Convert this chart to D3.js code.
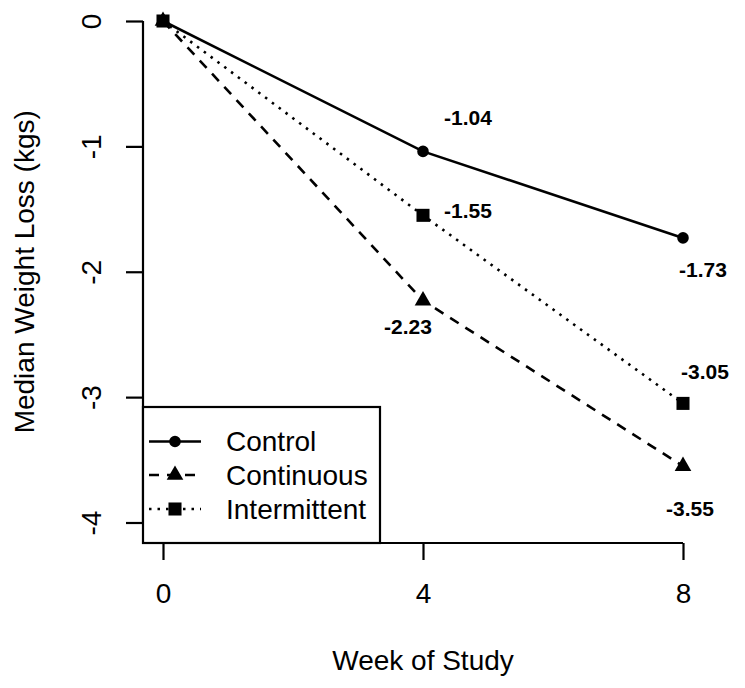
<!DOCTYPE html>
<html>
<head>
<meta charset="utf-8">
<script src="https://cdn.jsdelivr.net/npm/d3@7"></script>
<style>
  html, body { margin: 0; padding: 0; background: #fff; }
  svg { display: block; }
  text { font-family: "Liberation Sans", Arial, Helvetica, sans-serif; fill: #000; }
</style>
</head>
<body>
<svg id="chart" width="745" height="688"></svg>
<script>
// ---- data ----
const weeks = [0, 4, 8];
const seriesNames = ["Control", "Continuous", "Intermittent"];
const controlValues = [0, -1.04, -1.73];
const continuousValues = [0, -2.23, -3.55];
const intermittentValues = [0, -1.55, -3.05];
const xTickValues = [0, 4, 8];
const yTickValues = [0, -1, -2, -3, -4];
const xTitle = "Week of Study";
const yTitle = "Median Weight Loss (kgs)";

// ---- layout / style (not data) ----
const xRange = [163, 683];
const yRange = [522.5, 21];
const labelOffsets = {   // pixel offsets of value labels from their points
  Control:      [null, [45, -34], [20, 32]],
  Continuous:   [null, [-15, 26], [7, 42]],
  Intermittent: [null, [45, -5], [22, -32]]
};
const styles = {
  Control:      { dash: null,   symbol: d3.symbolCircle,   size: 105 },
  Continuous:   { dash: "10,8", symbol: d3.symbolTriangle, size: 120 },
  Intermittent: { dash: "2.5,6", symbol: d3.symbolSquare,  size: 170 }
};
const fmt = v => (v < 0 ? "-" : "") + Math.abs(v).toFixed(2);
const fmtTick = v => (v < 0 ? "-" : "") + Math.abs(v);

const series = [
  { name: seriesNames[0], values: controlValues },
  { name: seriesNames[1], values: continuousValues },
  { name: seriesNames[2], values: intermittentValues }
];

const svg = d3.select("#chart");
const x = d3.scaleLinear().domain([0, 8]).range(xRange);
const y = d3.scaleLinear().domain([-4, 0]).range(yRange);

// Y axis (R style: line at left, rotated labels)
const yAxisX = 143;
const yAxis = d3.axisLeft(y).tickValues(yTickValues).tickSize(17).tickPadding(0).tickFormat(fmtTick);
const gy = svg.append("g").attr("transform", `translate(${yAxisX},0)`).call(yAxis);
gy.select(".domain").attr("d", `M0,${y(0)}V${y(-4)}`).attr("stroke", "#000").attr("stroke-width", 2.2);
gy.selectAll(".tick line").attr("stroke", "#000").attr("stroke-width", 2.2);
gy.selectAll(".tick text")
  .attr("x", null).attr("dy", null)
  .attr("transform", "translate(-52,0) rotate(-90)")
  .attr("text-anchor", "middle")
  .attr("dominant-baseline", "central")
  .style("font-size", "28px");

// X axis
const xAxisY = 543;
const xAxis = d3.axisBottom(x).tickValues(xTickValues).tickSize(17).tickPadding(23).tickFormat(fmtTick);
const gx = svg.append("g").attr("transform", `translate(0,${xAxisY})`).call(xAxis);
gx.select(".domain").attr("d", `M${x(0)},0H${x(8)}`).attr("stroke", "#000").attr("stroke-width", 2.2);
gx.selectAll(".tick line").attr("stroke", "#000").attr("stroke-width", 2.2);
gx.selectAll(".tick text").style("font-size", "28px");

// Axis titles
svg.append("text")
  .attr("transform", `translate(${x(4)},660)`)
  .attr("text-anchor", "middle")
  .attr("dominant-baseline", "central")
  .style("font-size", "28px")
  .text(xTitle);
svg.append("text")
  .attr("transform", `translate(34,${(yRange[0] + yRange[1]) / 2}) rotate(-90)`)
  .attr("text-anchor", "middle")
  .style("font-size", "28px")
  .text(yTitle);

// Lines
const line = d3.line().x(d => x(d[0])).y(d => y(d[1]));
series.forEach(s => {
  const st = styles[s.name];
  const pts = weeks.map((w, i) => [w, s.values[i]]);
  svg.append("path")
    .datum(pts)
    .attr("d", line)
    .attr("fill", "none")
    .attr("stroke", "#000")
    .attr("stroke-width", 2.6)
    .attr("stroke-dasharray", st.dash);
  svg.append("g").selectAll("path.pt")
    .data(pts)
    .join("path")
    .attr("class", "pt")
    .attr("transform", d => `translate(${x(d[0])},${y(d[1])})`)
    .attr("d", d3.symbol().type(st.symbol).size(st.size))
    .attr("fill", "#000");
  // value labels
  svg.append("g").selectAll("text")
    .data(pts.map((p, i) => ({ p, off: labelOffsets[s.name][i] })).filter(d => d.off))
    .join("text")
    .attr("x", d => x(d.p[0]) + d.off[0])
    .attr("y", d => y(d.p[1]) + d.off[1])
    .attr("text-anchor", "middle")
    .attr("dominant-baseline", "central")
    .style("font-size", "21px")
    .style("font-weight", "bold")
    .text(d => fmt(d.p[1]));
});

// Legend
const lg = svg.append("g");
lg.append("rect")
  .attr("x", 143).attr("y", 407).attr("width", 237).attr("height", 136)
  .attr("fill", "#fff").attr("stroke", "#000").attr("stroke-width", 2.2);
const legendRows = [441.5, 475, 509];
series.forEach((s, i) => {
  const st = styles[s.name];
  const ly = legendRows[i];
  lg.append("line")
    .attr("x1", 149).attr("x2", 201).attr("y1", ly).attr("y2", ly)
    .attr("stroke", "#000").attr("stroke-width", 2.6)
    .attr("stroke-dasharray", st.dash);
  lg.append("path")
    .attr("transform", `translate(175,${ly})`)
    .attr("d", d3.symbol().type(st.symbol).size(st.size))
    .attr("fill", "#000");
  lg.append("text")
    .attr("x", 226).attr("y", ly)
    .attr("dominant-baseline", "central")
    .style("font-size", "28px")
    .text(s.name);
});
</script>
</body>
</html>
